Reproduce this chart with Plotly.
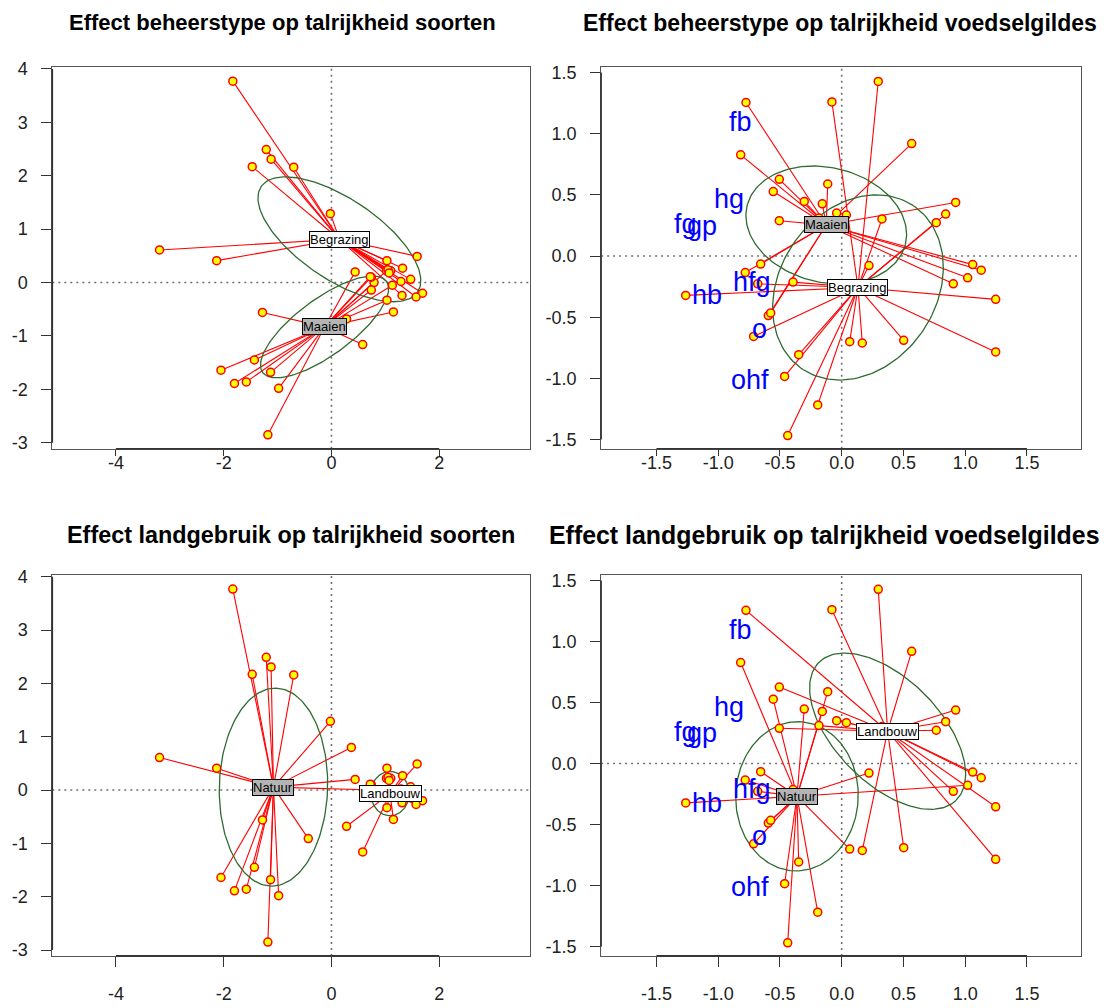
import numpy as np
import plotly.graph_objects as go

# ---------------- data: species-based ordination (left panels) ----------------
sp_x = [-1.83, -1.21, -1.12, -1.47, -0.70, -0.02, 0.37, -3.19, -2.13, 0.44,
        0.79, -1.28, -0.43, -1.43, -2.05, -1.80, -1.58, -1.13, -0.98, -1.18,
        1.59, 1.03, 1.32, 1.02, 1.10, 0.74, 1.47, 1.29, 1.13, 0.74,
        1.69, 1.57, 1.31, 1.03, 1.15, 0.28, 0.58, 1.05, 1.07, 0.72]
sp_y = [3.77, 2.49, 2.31, 2.17, 2.16, 1.29, 0.80, 0.61, 0.41, 0.20,
        0.00, -0.56, -0.91, -1.45, -1.64, -1.89, -1.86, -1.68, -1.98, -2.85,
        0.49, 0.41, 0.27, 0.22, 0.22, 0.10, 0.06, 0.02, -0.05, -0.14,
        -0.20, -0.27, -0.24, -0.33, -0.55, -0.68, -1.16, 0.24, 0.18, 0.11]
sp_beheer = ["Begrazing"] * 9 + ["Maaien"] * 11 + [
    "Begrazing", "Begrazing", "Begrazing", "Maaien", "Begrazing", "Maaien", "Begrazing",
    "Begrazing", "Maaien", "Maaien", "Begrazing", "Begrazing", "Begrazing", "Maaien",
    "Maaien", "Maaien", "Maaien", "Begrazing", "Begrazing", "Maaien"]
sp_land = ["Natuur"] * 20 + ["Landbouw"] * 20

# ---------------- data: guild-based ordination (right panels) ----------------
gl_x = [0.296, -0.775, -0.079, 0.567, -0.818, -0.505, -0.554, -0.113, -0.303, -0.157,
        0.923, 0.842, 0.766, -0.041, 0.038, -0.184, -0.505, 0.326, -0.656, -0.781,
        0.221, 1.061, 1.130, 1.020, 0.904, -0.680, -0.394, -1.263, 1.247, -0.594,
        -0.575, -0.713, 0.065, 0.167, 0.502, -0.348, 1.247, -0.462, -0.194, -0.437]
gl_y = [1.427, 1.255, 1.260, 0.919, 0.827, 0.627, 0.527, 0.589, 0.446, 0.427,
        0.438, 0.343, 0.273, 0.351, 0.335, 0.311, 0.289, 0.303, -0.066, -0.135,
        -0.078, -0.070, -0.116, -0.178, -0.227, -0.227, -0.213, -0.322, -0.354, -0.487,
        -0.465, -0.657, -0.700, -0.711, -0.689, -0.806, -0.784, -0.984, -1.217, -1.468]
gl_beheer = ["Begrazing", "Maaien", "Begrazing", "Maaien", "Maaien", "Maaien", "Maaien",
             "Maaien", "Maaien", "Maaien", "Maaien", "Begrazing", "Begrazing", "Maaien",
             "Maaien", "Maaien", "Maaien", "Begrazing", "Maaien", "Maaien",
             "Begrazing", "Maaien", "Maaien", "Maaien", "Maaien", "Begrazing", "Begrazing",
             "Begrazing", "Begrazing", "Maaien", "Maaien", "Begrazing", "Begrazing",
             "Begrazing", "Begrazing", "Begrazing", "Begrazing", "Begrazing", "Begrazing",
             "Begrazing"]
gl_land = ["Landbouw", "Landbouw", "Landbouw", "Landbouw", "Natuur", "Landbouw", "Natuur",
           "Natuur", "Natuur", "Natuur", "Landbouw", "Landbouw", "Landbouw", "Landbouw",
           "Landbouw", "Landbouw", "Landbouw", "Landbouw", "Natuur", "Natuur",
           "Natuur", "Landbouw", "Landbouw", "Natuur", "Landbouw", "Natuur", "Natuur",
           "Natuur", "Landbouw", "Natuur", "Natuur", "Natuur", "Natuur", "Landbouw",
           "Landbouw", "Natuur", "Landbouw", "Natuur", "Natuur", "Natuur"]

# guild (species) scores shown as text
guild_names = ["fb", "hg", "fg", "gp", "hfg", "hb", "o", "ohf"]
guild_x = [-0.819, -0.911, -1.263, -1.134, -0.729, -1.089, -0.662, -0.742]
guild_y = [1.065, 0.430, 0.227, 0.214, -0.241, -0.354, -0.630, -1.044]

# group centroids
groups_beheer = ["Begrazing", "Maaien"]
groups_land = ["Landbouw", "Natuur"]
sp_beheer_cx = [0.147, -0.128]
sp_beheer_cy = [0.81, -0.83]
sp_land_cx = [1.087, -1.076]
sp_land_cy = [-0.066, 0.055]
gl_beheer_cx = [0.132, -0.125]
gl_beheer_cy = [-0.257, 0.254]
gl_land_cx = [0.372, -0.362]
gl_land_cy = [0.265, -0.268]

# dispersion ellipses: semi-axes and rotation (degrees)
sp_beheer_ell = [(1.755, 0.754, -34.3), (1.431, 0.523, 36.7)]
sp_land_ell = [(0.415, 0.356, 90.0), (1.857, 1.005, 88.5)]
gl_beheer_ell = [(0.805, 0.634, 56.4), (0.660, 0.469, -13.9)]
gl_land_ell = [(0.792, 0.426, -45.7), (0.611, 0.496, 88.0)]

# axis ticks
left_xticks = [-4, -2, 0, 2]
left_yticks = [-3, -2, -1, 0, 1, 2, 3, 4]
right_ticks = [-1.5, -1.0, -0.5, 0.0, 0.5, 1.0, 1.5]

titles = ["Effect beheerstype op talrijkheid soorten",
          "Effect beheerstype op talrijkheid voedselgildes",
          "Effect landgebruik op talrijkheid soorten",
          "Effect landgebruik op talrijkheid voedselgildes"]

# ---------------- layout helpers ----------------
W, H = 1110, 1008
FONT = "Liberation Sans, Arial, Helvetica, sans-serif"
box = {  # pixel boxes of plot regions: (left, right, top, bottom)
    1: (52.3, 530.3, 60, 446),
    2: (601.1, 1080.9, 60, 446),
    3: (52.3, 530.3, 574, 959.3),
    4: (601.1, 1080.9, 574, 959.3),
}
left_xr, left_yr = [-5.18, 3.69], [-3.11, 4.03]
right_xr, right_yr = [-1.948, 1.937], [-1.575, 1.543]

fig = go.Figure()
RED = "#ff0000"
GREEN = "#2f6b2f"


def fmt(v, dec):
    return f"{v:.{dec}f}"


def add_panel(k, xs, ys, grp, groups, cxs, cys, ells, guilds=False):
    xa = "x" if k == 1 else f"x{k}"
    ya = "y" if k == 1 else f"y{k}"
    # spider
    lx, ly = [], []
    for x, y, g in zip(xs, ys, grp):
        gi = groups.index(g)
        lx += [cxs[gi], x, None]
        ly += [cys[gi], y, None]
    fig.add_trace(go.Scatter(x=lx, y=ly, mode="lines", line=dict(color=RED, width=1.1),
                             xaxis=xa, yaxis=ya, hoverinfo="skip", showlegend=False))
    # ellipses
    t = np.linspace(0, 2 * np.pi, 181)
    for (a, b, th), cx, cy in zip(ells, cxs, cys):
        r = np.deg2rad(th)
        ex = cx + a * np.cos(t) * np.cos(r) - b * np.sin(t) * np.sin(r)
        ey = cy + a * np.cos(t) * np.sin(r) + b * np.sin(t) * np.cos(r)
        fig.add_trace(go.Scatter(x=ex, y=ey, mode="lines", line=dict(color=GREEN, width=1.3),
                                 xaxis=xa, yaxis=ya, hoverinfo="skip", showlegend=False))
    # points
    fig.add_trace(go.Scatter(x=xs, y=ys, mode="markers",
                             marker=dict(symbol="circle", size=8, color="#ffff00",
                                         line=dict(color=RED, width=1.5)),
                             xaxis=xa, yaxis=ya, showlegend=False))
    if guilds:
        for nm, gx, gy in zip(guild_names, guild_x, guild_y):
            fig.add_annotation(x=gx, y=gy, xref=xa, yref=ya, text=nm, showarrow=False,
                               xanchor="center", yanchor="middle", yshift=4,
                               font=dict(color="#0000ff", size=27, family=FONT))
    # centroid labels
    fills = ["#ffffff", "#b4b4b4"]
    for gi, g in enumerate(groups):
        fig.add_annotation(x=cxs[gi], y=cys[gi], xref=xa, yref=ya, text=g, showarrow=False,
                           font=dict(size=13, color="#000000", family=FONT),
                           bgcolor=fills[gi], bordercolor="#000000", borderwidth=1, borderpad=0)


add_panel(1, sp_x, sp_y, sp_beheer, groups_beheer, sp_beheer_cx, sp_beheer_cy, sp_beheer_ell)
add_panel(2, gl_x, gl_y, gl_beheer, groups_beheer, gl_beheer_cx, gl_beheer_cy, gl_beheer_ell, True)
add_panel(3, sp_x, sp_y, sp_land, groups_land, sp_land_cx, sp_land_cy, sp_land_ell)
add_panel(4, gl_x, gl_y, gl_land, groups_land, gl_land_cx, gl_land_cy, gl_land_ell, True)

layout = dict(width=W, height=H, margin=dict(l=0, r=0, t=0, b=0), autosize=False,
              paper_bgcolor="white", plot_bgcolor="white", showlegend=False)

for k in range(1, 5):
    l, r, tp, bt = box[k]
    left = k in (1, 3)
    xr, yr = (left_xr, left_yr) if left else (right_xr, right_yr)
    xt = left_xticks if left else right_ticks
    yt = left_yticks if left else right_ticks
    dec = 0 if left else 1
    top_row = k in (1, 2)
    common = dict(showgrid=False, zeroline=False, showline=True, mirror=True,
                  linecolor="#555555", linewidth=1, ticks="outside", ticklen=10,
                  tickwidth=1.3, tickcolor="#333333",
                  tickfont=dict(size=18, color="#222222", family=FONT), fixedrange=True)
    xs = "" if k == 1 else str(k)
    layout[f"xaxis{xs}"] = dict(common, domain=[l / W, r / W], range=xr, autorange=False,
                                tickmode="array", tickvals=xt, ticktext=[fmt(v, dec) for v in xt],
                                anchor=f"y{xs}", ticklen=(6 if top_row else 10),
                                ticklabelstandoff=(-8 if top_row else 12))
    layout[f"yaxis{xs}"] = dict(common, domain=[1 - bt / H, 1 - tp / H], range=yr, autorange=False,
                                tickmode="array", tickvals=yt, ticktext=[fmt(v, dec) for v in yt],
                                anchor=f"x{xs}", ticklabelstandoff=10)

fig.update_layout(**layout)

# dotted zero lines and R-style axis lines (first to last tick)
shapes = []
for k in range(1, 5):
    xs = "" if k == 1 else str(k)
    left = k in (1, 3)
    xt = left_xticks if left else right_ticks
    yt = left_yticks if left else right_ticks
    dot = dict(color="#707070", width=1.6, dash="2px,4px")
    shapes.append(dict(type="line", xref=f"x{xs}", yref=f"y{xs} domain", x0=0, x1=0, y0=0, y1=1,
                       line=dot, layer="below"))
    shapes.append(dict(type="line", xref=f"x{xs} domain", yref=f"y{xs}", x0=0, x1=1, y0=0, y1=0,
                       line=dot, layer="below"))
    shapes.append(dict(type="line", xref=f"x{xs}", yref=f"y{xs} domain", x0=xt[0], x1=xt[-1],
                       y0=0, y1=0, line=dict(color="#333333", width=1.6)))
    shapes.append(dict(type="line", xref=f"x{xs} domain", yref=f"y{xs}", x0=0, x1=0,
                       y0=yt[0], y1=yt[-1], line=dict(color="#333333", width=1.6)))
fig.update_layout(shapes=shapes)

# titles: (center x px, center y px, font size)
title_pos = [(282, 15, 22), (840, 15, 23), (291, 533, 23.4), (824, 533, 24.9)]
for txt, (px, py, fs) in zip(titles, title_pos):
    fig.add_annotation(x=px / W, y=1 - py / H, xref="paper", yref="paper", text=f"<b>{txt}</b>",
                       showarrow=False, xanchor="center", yanchor="middle",
                       font=dict(size=fs, color="#000000", family=FONT))

fig.write_html("out.html")
